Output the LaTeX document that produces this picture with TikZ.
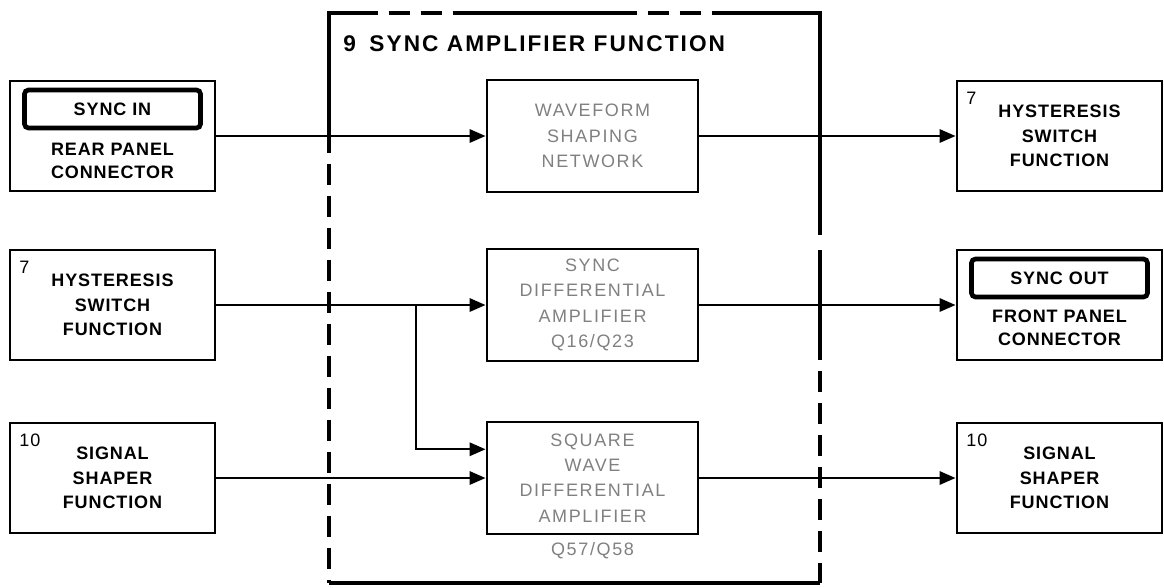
\documentclass[tikz,border=0pt]{standalone}
\usepackage{fontspec}
\setmainfont{Liberation Sans}
\newfontfamily\blkfont[LetterSpace=5]{Liberation Sans}
\newfontfamily\netfont[LetterSpace=9]{Liberation Sans}
\newfontfamily\ttlfont[LetterSpace=9]{Liberation Sans}
\usetikzlibrary{arrows.meta}
\usetikzlibrary{calc, math}

\begin{document}
\begin{tikzpicture}[x=0.75pt,y=-0.75pt,
  blk/.style={draw,line width=2.2pt,minimum width=153.75pt,minimum height=82.5pt,inner sep=0pt,align=center,font=\blkfont\bfseries\fontsize{13.5}{18.5}\selectfont},
  txt/.style={inner sep=0pt,align=center,font=\blkfont\bfseries\fontsize{13.5}{17}\selectfont},
  tag/.style={anchor=north west,inner sep=0pt,xshift=8pt,yshift=-9pt,font=\blkfont\fontsize{13.5}{16}\selectfont},
  jack/.style={draw,line width=3.5pt,rounded corners=3pt,minimum width=132pt,minimum height=28.5pt,inner sep=0pt,font=\blkfont\bfseries\fontsize{13.5}{16}\selectfont},
  net/.style={draw,line width=2.2pt,minimum width=158.25pt,minimum height=84pt,inner sep=0pt,align=center,text=black!50,font=\netfont\fontsize{13.5}{19}\selectfont},
  nettxt/.style={inner sep=0pt,text=black!50,font=\netfont\fontsize{13.5}{16}\selectfont},
  sig/.style={line width=1.7pt,-{Triangle[length=12pt,width=10pt]}},
  frame/.style={line width=3pt},
  gaps/.style={dash pattern=on 16pt off 8pt,dash phase=16pt}]
\tikzmath{
\xl=112.5; \xc=592.5; \xr=1059.5;%columns
\ya=136; \yb=305; \yc=478;%rows
}
\useasboundingbox (0,0) rectangle (1164,587);

% sync amplifier frame
\draw[frame] (329,153) -- (329,13) -- (378,13);
\draw[frame,gaps] (378,13) -- (467,13);
\draw[frame] (467,13) -- (637,13);
\draw[frame,gaps] (637,13) -- (730,13);
\draw[frame] (730,13) -- (820,13) -- (820,235);
\draw[frame] (820,250) -- (820,360);
\draw[frame,gaps] (820,360) -- (820,583);
\draw[frame,gaps] (329,153) -- (329,583);
\draw[frame] (329,583) -- (820,583);
\node[anchor=west,inner sep=0pt,font=\ttlfont\bfseries\fontsize{17}{20}\selectfont] (title) at (343,44) {9\hspace{0.6em}SYNC AMPLIFIER FUNCTION};

% left column
\node[blk] (rear) at (\xl,\ya) {};
\node[jack] (syncin) at (\xl,109) {SYNC IN};
\node[txt] (reartxt) at (\xl,161) {REAR PANEL\\CONNECTOR};
\node[blk] (hysl) at (\xl,\yb) {HYSTERESIS\\SWITCH\\FUNCTION};
\node[tag] (hysltag) at (hysl.north west) {7};
\node[blk] (shl) at (\xl,\yc) {SIGNAL\\SHAPER\\FUNCTION};
\node[tag] (shltag) at (shl.north west) {10};

% sync amplifier
\node[net] (wave) at (\xc,\ya) {WAVEFORM\\SHAPING\\NETWORK};
\node[net] (diff) at (\xc,\yb) {SYNC\\DIFFERENTIAL\\AMPLIFIER\\Q16/Q23};
\node[net] (sq) at (\xc,\yc) {SQUARE\\WAVE\\DIFFERENTIAL\\AMPLIFIER};
\node[nettxt] (sqq) at (\xc,551) {Q57/Q58};

% right column
\node[blk] (hysr) at (\xr,\ya) {HYSTERESIS\\SWITCH\\FUNCTION};
\node[tag] (hysrtag) at (hysr.north west) {7};
\node[blk] (front) at (\xr,\yb) {};
\node[jack] (syncout) at (\xr,278) {SYNC OUT};
\node[txt] (fronttxt) at (\xr,328) {FRONT PANEL\\CONNECTOR};
\node[blk] (shr) at (\xr,\yc) {SIGNAL\\SHAPER\\FUNCTION};
\node[tag] (shrtag) at (shr.north west) {10};

\draw[sig] (rear) -- (wave);
\draw[sig] (wave) -- (hysr);
\draw[sig] (hysl) -- (diff);
\draw[sig] (diff) -- (front);
\coordinate (br) at (416,\yb);
\draw[sig] (br) |- ($(sq.north west)!0.25!(sq.south west)$);
\draw[sig] (shl) -- (sq);
\draw[sig] (sq) -- (shr);
\end{tikzpicture}
\end{document}
